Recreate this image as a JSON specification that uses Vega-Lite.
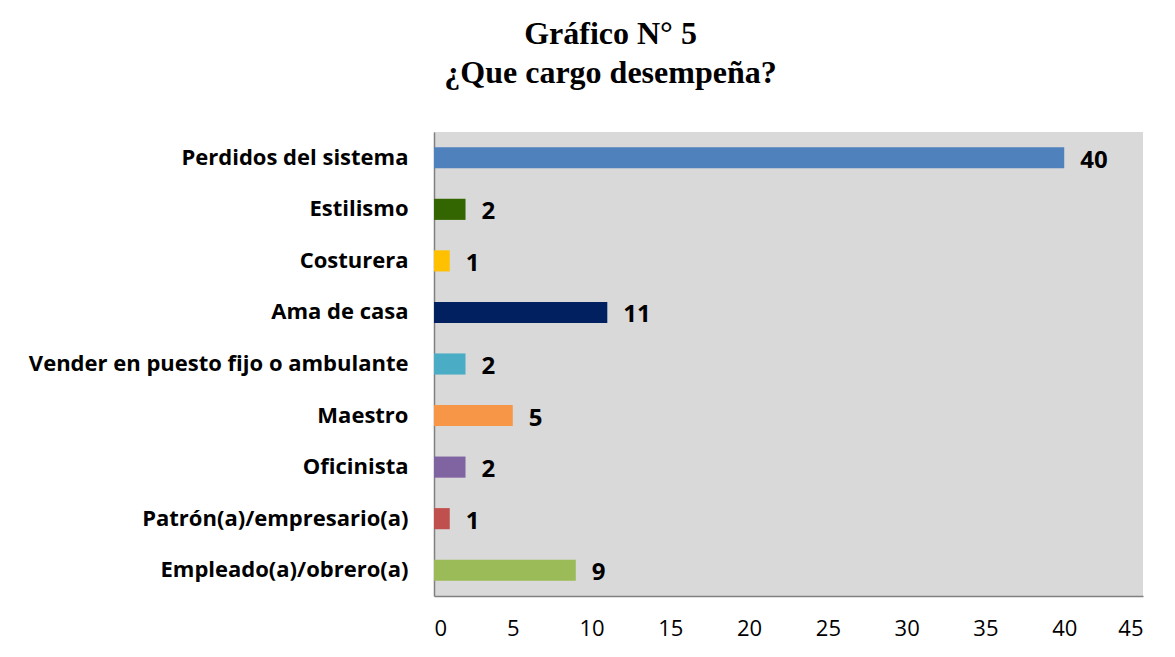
{
  "$schema": "https://vega.github.io/schema/vega-lite/v6.json",
  "autosize": {"type": "none"},
  "width": 709,
  "height": 464,
  "padding": {"left": 434, "top": 132, "right": 32, "bottom": 61},
  "background": "white",
  "title": {
    "text": ["Gráfico N° 5", "¿Que cargo desempeña?"],
    "font": "Liberation Serif",
    "fontSize": 32,
    "fontWeight": "bold",
    "color": "black",
    "anchor": "middle",
    "frame": "group",
    "dx": -178,
    "offset": 42,
    "lineHeight": 39
  },
  "data": {
    "values": [
      {"cargo": "Perdidos del sistema", "n": 40, "color": "#4F81BD"},
      {"cargo": "Estilismo", "n": 2, "color": "#336600"},
      {"cargo": "Costurera", "n": 1, "color": "#FFC000"},
      {"cargo": "Ama de casa", "n": 11, "color": "#002060"},
      {"cargo": "Vender en puesto fijo o ambulante", "n": 2, "color": "#4BACC6"},
      {"cargo": "Maestro", "n": 5, "color": "#F79646"},
      {"cargo": "Oficinista", "n": 2, "color": "#8064A2"},
      {"cargo": "Patrón(a)/empresario(a)", "n": 1, "color": "#C0504D"},
      {"cargo": "Empleado(a)/obrero(a)", "n": 9, "color": "#9BBB59"}
    ]
  },
  "encoding": {
    "y": {
      "field": "cargo",
      "type": "nominal",
      "sort": null,
      "scale": {"paddingInner": 0.59, "paddingOuter": 0.295},
      "axis": {
        "title": null,
        "ticks": false,
        "labelFont": "Open Sans",
        "labelFontSize": 22,
        "labelFontWeight": "bold",
        "labelColor": "black",
        "labelPadding": 26,
        "domainColor": "#808080",
        "domainWidth": 1.5,
        "labelLimit": 500
      }
    },
    "x": {
      "field": "n",
      "type": "quantitative",
      "scale": {"domain": [0, 45]},
      "axis": {
        "title": null,
        "values": [0, 5, 10, 15, 20, 25, 30, 35, 40, 45],
        "ticks": false,
        "grid": false,
        "labelFont": "Open Sans",
        "labelFontSize": 22,
        "labelColor": "black",
        "labelPadding": 22,
        "domainColor": "#808080",
        "domainWidth": 1.5
      }
    }
  },
  "layer": [
    {
      "mark": {"type": "bar"},
      "encoding": {
        "color": {"field": "color", "type": "nominal", "scale": null}
      }
    },
    {
      "mark": {
        "type": "text",
        "align": "left",
        "baseline": "middle",
        "dx": 16,
        "dy": 3,
        "font": "Open Sans",
        "fontSize": 24,
        "fontWeight": "bold",
        "color": "black"
      },
      "encoding": {
        "text": {"field": "n", "type": "quantitative"}
      }
    }
  ],
  "config": {
    "view": {"fill": "#D9D9D9", "stroke": null}
  }
}
